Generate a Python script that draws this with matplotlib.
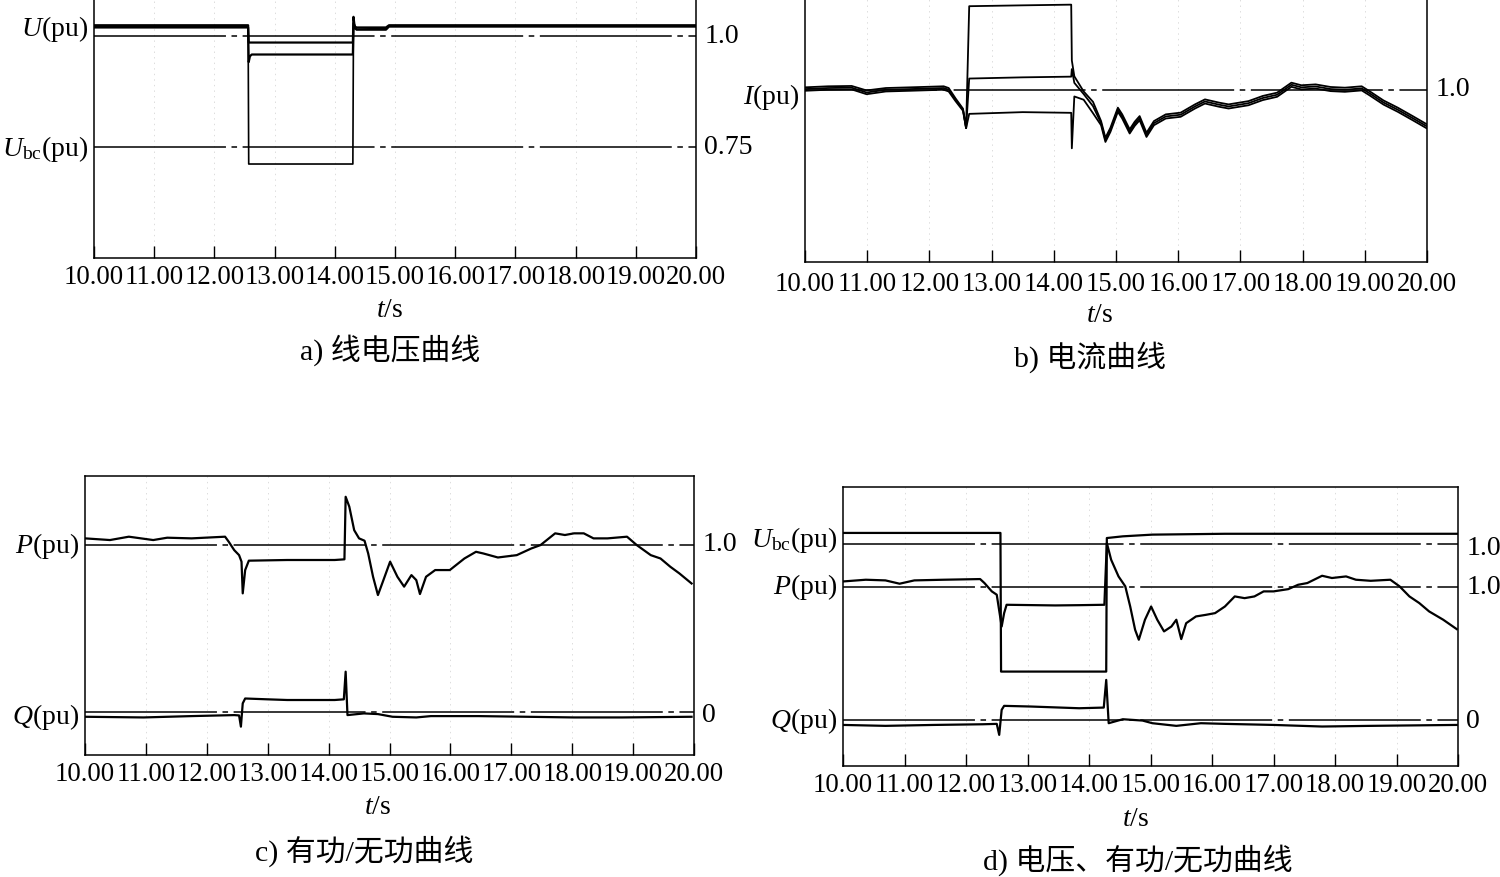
import matplotlib as mpl
mpl.use('Agg')
import matplotlib.pyplot as plt


W, H = 1500, 877
FONT_SIZE = 20
TICK_SIZE = 19.3

mpl.rcParams['font.family'] = ['Liberation Serif', 'Noto Sans CJK SC']
mpl.rcParams['mathtext.fontset'] = 'custom'
mpl.rcParams['mathtext.rm'] = 'Liberation Serif'
mpl.rcParams['mathtext.it'] = 'Liberation Serif:italic'
mpl.rcParams['lines.scale_dashes'] = False
mpl.rcParams['axes.unicode_minus'] = False

# long dash with a short dash in the gap (reference lines)
DASH_DOT = (0, (95, 4, 4, 4))

time_ticks = [10, 11, 12, 13, 14, 15, 16, 17, 18, 19, 20]

# a) line voltages
ua_t1 = [10.00, 12.56, 12.57, 14.30, 14.31, 14.33, 14.36, 14.85, 14.90, 20.00]
ua_1 = [1.025, 1.025, 0.986, 0.986, 1.044, 1.022, 1.020, 1.020, 1.025, 1.025]
ua_t2 = [10.00, 12.56, 12.57, 12.59, 12.62, 14.30, 14.31, 14.36, 14.85, 14.90, 20.00]
ua_2 = [1.020, 1.020, 0.942, 0.955, 0.959, 0.959, 1.030, 1.015, 1.015, 1.022, 1.022]
ua_t3 = [10.00, 12.56, 12.57, 14.30, 14.31, 14.36, 14.85, 14.90, 20.00]
ua_3 = [1.022, 1.022, 0.712, 0.712, 1.018, 1.016, 1.018, 1.023, 1.023]

# b) currents
ib_t = [10.00, 10.37, 10.75, 10.99, 11.30, 11.69, 12.23, 12.31, 12.42, 12.54,
        12.59, 12.64, 13.50, 14.28, 14.29, 14.33, 14.48, 14.63,
        14.76, 14.83, 14.91, 15.03, 15.10, 15.22, 15.30, 15.38, 15.49, 15.61,
        15.80, 16.04, 16.27, 16.43, 16.66, 16.81, 17.13, 17.36, 17.59, 17.82,
        17.98, 18.21, 18.45, 18.68, 18.95, 19.07, 19.30, 19.53, 19.77, 20.00]
ib_a = [1.014, 1.020, 1.022, 0.996, 1.010, 1.014, 1.020, 1.010, 0.950, 0.890,
        0.777, 1.485, 1.490, 1.494, 1.170, 1.078, 0.990, 0.930,
        0.818, 0.721, 0.779, 0.896, 0.857, 0.770, 0.814, 0.847, 0.750, 0.818,
        0.857, 0.867, 0.915, 0.944, 0.925, 0.915, 0.934, 0.964, 0.983, 1.041,
        1.026, 1.031, 1.016, 1.012, 1.020, 0.993, 0.938, 0.896, 0.847, 0.799]
ib_b = [1.004, 1.010, 1.012, 0.984, 1.000, 1.004, 1.010, 1.000, 0.942, 0.884,
        0.777, 1.065, 1.072, 1.076, 1.120, 1.040, 0.975, 0.905,
        0.806, 0.709, 0.767, 0.884, 0.845, 0.758, 0.802, 0.835, 0.738, 0.806,
        0.845, 0.855, 0.903, 0.932, 0.913, 0.903, 0.922, 0.952, 0.971, 1.029,
        1.014, 1.019, 1.004, 1.000, 1.008, 0.981, 0.926, 0.884, 0.835, 0.787]
ib_c = [0.994, 1.000, 1.002, 0.974, 0.990, 0.994, 1.000, 0.990, 0.934, 0.878,
        0.777, 0.860, 0.870, 0.866, 0.660, 0.961, 0.942, 0.864,
        0.794, 0.697, 0.755, 0.872, 0.833, 0.746, 0.790, 0.823, 0.726, 0.794,
        0.833, 0.843, 0.891, 0.920, 0.901, 0.891, 0.910, 0.940, 0.959, 1.017,
        1.002, 1.007, 0.992, 0.988, 0.996, 0.969, 0.914, 0.872, 0.823, 0.775]

# c) active / reactive power
pc_t = [10.00, 10.41, 10.72, 11.12, 11.35, 11.75, 12.30, 12.36, 12.45, 12.53,
        12.57, 12.59, 12.63, 12.69, 13.32, 14.10, 14.26, 14.28, 14.34, 14.42,
        14.50, 14.59, 14.65, 14.73, 14.81, 14.89, 15.01, 15.13, 15.24, 15.36,
        15.44, 15.50, 15.60, 15.75, 15.99, 16.23, 16.42, 16.54, 16.78, 17.09,
        17.33, 17.48, 17.72, 17.88, 18.03, 18.19, 18.35, 18.58, 18.90, 19.06,
        19.29, 19.45, 19.61, 19.76, 19.96]
pc = [1.038, 1.028, 1.048, 1.028, 1.042, 1.038, 1.048, 1.018, 0.968, 0.938,
      0.899, 0.710, 0.849, 0.905, 0.909, 0.909, 0.913, 1.286, 1.227, 1.087,
      1.038, 1.024, 0.948, 0.809, 0.700, 0.779, 0.899, 0.809, 0.750, 0.819,
      0.789, 0.706, 0.809, 0.849, 0.849, 0.918, 0.958, 0.948, 0.924, 0.938,
      0.978, 0.998, 1.068, 1.058, 1.068, 1.068, 1.038, 1.038, 1.048, 0.998,
      0.938, 0.918, 0.869, 0.829, 0.769]
qc_t = [10.00, 10.96, 11.75, 12.45, 12.53, 12.56, 12.59, 12.63, 13.00, 13.32,
        14.10, 14.25, 14.28, 14.31, 14.58, 14.81, 15.05, 15.44, 15.68, 16.46,
        17.25, 18.03, 18.82, 19.96]
qc = [-0.026, -0.030, -0.022, -0.016, -0.018, -0.085, 0.054, 0.083, 0.078, 0.074,
      0.074, 0.078, 0.243, -0.016, -0.006, -0.010, -0.026, -0.030, -0.022, -0.022,
      -0.026, -0.030, -0.030, -0.026]

# d) voltage, active / reactive power
ud_t = [10.00, 12.56, 12.57, 14.28, 14.29, 14.55, 15.03, 16.21, 20.00]
ud = [1.026, 1.026, 0.700, 0.700, 1.014, 1.018, 1.022, 1.024, 1.024]
pd_t = [10.00, 10.37, 10.69, 10.92, 11.16, 11.63, 12.23, 12.30, 12.42, 12.50,
        12.58, 12.62, 12.66, 13.45, 13.84, 14.25, 14.29, 14.36, 14.48, 14.59,
        14.67, 14.75, 14.81, 14.91, 15.01, 15.11, 15.22, 15.34, 15.42, 15.50,
        15.58, 15.74, 15.90, 16.05, 16.21, 16.37, 16.53, 16.69, 16.84, 17.00,
        17.24, 17.40, 17.55, 17.79, 17.95, 18.18, 18.34, 18.58, 18.90, 19.05,
        19.21, 19.37, 19.53, 19.76, 19.98]
pd = [1.045, 1.058, 1.053, 1.028, 1.053, 1.058, 1.063, 1.033, 0.970, 0.945,
      0.705, 0.806, 0.869, 0.864, 0.866, 0.869, 1.335, 1.209, 1.083, 1.008,
      0.856, 0.680, 0.605, 0.756, 0.856, 0.756, 0.668, 0.705, 0.756, 0.610,
      0.730, 0.781, 0.793, 0.806, 0.856, 0.932, 0.919, 0.932, 0.970, 0.970,
      0.987, 1.020, 1.033, 1.088, 1.071, 1.083, 1.058, 1.050, 1.058, 1.008,
      0.932, 0.882, 0.819, 0.756, 0.685]
qd_t = [10.00, 10.69, 11.48, 12.27, 12.50, 12.54, 12.58, 12.62, 13.05, 13.84,
        14.24, 14.28, 14.32, 14.55, 14.87, 15.03, 15.42, 15.82, 16.21, 17.00,
        17.79, 18.58, 19.98]
qd = [-0.038, -0.045, -0.038, -0.033, -0.030, -0.113, 0.076, 0.106, 0.101, 0.088,
      0.093, 0.302, -0.025, 0.005, -0.005, -0.025, -0.045, -0.025, -0.030, -0.038,
      -0.050, -0.045, -0.038]


def add_px_axes(fig, x0, x1, y_top, y_bottom):
    # axes placed by pixel box of the reference picture
    return fig.add_axes([x0 / W, 1 - y_bottom / H, (x1 - x0) / W, (y_bottom - y_top) / H])


def style_axes(ax, ylim, pad=5):
    ax.set_xlim(10, 20)
    ax.set_ylim(*ylim)
    ax.set_xticks(time_ticks)
    ax.set_xticklabels(['%.2f' % t for t in time_ticks])
    ax.tick_params(axis='x', direction='in', length=8.5, width=1.0, pad=pad,
                   labelsize=TICK_SIZE)
    ax.tick_params(axis='y', left=False, right=False, labelleft=False, labelright=False)
    for x in time_ticks[1:-1]:
        ax.axvline(x, color='#dcdcdc', lw=0.7, ls=(0, (1, 3)), zorder=0)
    for spine in ax.spines.values():
        spine.set_linewidth(1.1)


def ref_line(ax, y, label, y_label=None):
    ax.axhline(y, color='black', lw=1.1, ls=DASH_DOT, zorder=1)
    ax.annotate(label, xy=(1, y if y_label is None else y_label),
                xycoords=('axes fraction', 'data'), xytext=(6, 0),
                textcoords='offset points', ha='left', va='center',
                fontsize=FONT_SIZE)


def left_label(ax, y, label):
    ax.annotate(label, xy=(0, y), xycoords=('axes fraction', 'data'),
                xytext=(-4, 0), textcoords='offset points', ha='right',
                va='center', fontsize=FONT_SIZE)


def captions(ax, ts_dx, ts_dy, cap_dx, cap_dy, caption):
    # offsets in pixels below the axes bottom
    ax.annotate('$t$/s', xy=(0.5, 0), xycoords='axes fraction',
                xytext=(ts_dx * 0.72, -ts_dy * 0.72), textcoords='offset points',
                ha='center', va='center', fontsize=FONT_SIZE)
    ax.annotate(caption, xy=(0.5, 0), xycoords='axes fraction',
                xytext=(cap_dx * 0.72, -cap_dy * 0.72), textcoords='offset points',
                ha='center', va='center', fontsize=FONT_SIZE + 1.5)


def trace(ax, t, v, lw=1.6):
    ax.plot(t, v, color='black', lw=lw, zorder=3)


fig = plt.figure(figsize=(W / 100, H / 100), dpi=100)

# a) 线电压曲线
ax_a = add_px_axes(fig, 94, 696, -8, 258)
style_axes(ax_a, (0.5, 1.1))
ref_line(ax_a, 1.0, '1.0')
ref_line(ax_a, 0.75, '0.75')
trace(ax_a, ua_t1, ua_1)
trace(ax_a, ua_t2, ua_2)
trace(ax_a, ua_t3, ua_3, lw=1.2)
left_label(ax_a, 1.016, '$U$(pu)')
left_label(ax_a, 0.745, '$U_{\\mathrm{bc}}$(pu)')
captions(ax_a, -5, 53, -5, 92, 'a) 线电压曲线')

# b) 电流曲线
ax_b = add_px_axes(fig, 805, 1427, -5, 262)
style_axes(ax_b, (0.0, 1.55), pad=7)
ref_line(ax_b, 1.0, '1.0')
trace(ax_b, ib_t, ib_a, lw=1.3)
trace(ax_b, ib_t, ib_b, lw=1.3)
trace(ax_b, ib_t, ib_c, lw=1.3)
left_label(ax_b, 0.96, '$I$(pu)')
captions(ax_b, -16, 54, -26, 95, 'b) 电流曲线')

# c) 有功/无功曲线
ax_c = add_px_axes(fig, 85, 694, 476, 755)
style_axes(ax_c, (-0.254, 1.41))
ref_line(ax_c, 1.0, '1.0')
ref_line(ax_c, 0.0, '0', y_label=-0.02)
trace(ax_c, pc_t, pc)
trace(ax_c, qc_t, qc)
left_label(ax_c, 0.99, '$P$(pu)')
left_label(ax_c, -0.03, '$Q$(pu)')
captions(ax_c, -12, 52, -25, 96, 'c) 有功/无功曲线')

# d) 电压、有功/无功曲线
ax_d = add_px_axes(fig, 843, 1458, 487, 766)
style_axes(ax_d, (-0.348, 1.758))
ref_line(ax_d, 1.0, '1.0')
ref_line(ax_d, 0.0, '0', y_label=-0.01)
trace(ax_d, pd_t, pd)
trace(ax_d, qd_t, qd)
left_label(ax_d, 1.005, '$P$(pu)')
left_label(ax_d, -0.005, '$Q$(pu)')
captions(ax_d, -15, 54, -13, 94, 'd) 电压、有功/无功曲线')

# U_bc in panel d has its own scale
ax_u = ax_d.twinx()
ax_u.set_ylim(0.478, 1.134)
ax_u.axis('off')
ax_d.tick_params(axis='y', left=False, right=False, labelleft=False, labelright=False)
ax_u.axhline(1.0, color='black', lw=1.1, ls=DASH_DOT, zorder=1)
ax_u.plot(ud_t, ud, color='black', lw=1.6, zorder=3)
ax_u.annotate('1.0', xy=(1, 0.99), xycoords=('axes fraction', 'data'), xytext=(6, 0),
              textcoords='offset points', ha='left', va='center', fontsize=FONT_SIZE)
ax_u.annotate('$U_{\\mathrm{bc}}$(pu)', xy=(0, 1.01), xycoords=('axes fraction', 'data'),
              xytext=(-4, 0), textcoords='offset points', ha='right', va='center',
              fontsize=FONT_SIZE)

fig.savefig('out.png', dpi=100)
